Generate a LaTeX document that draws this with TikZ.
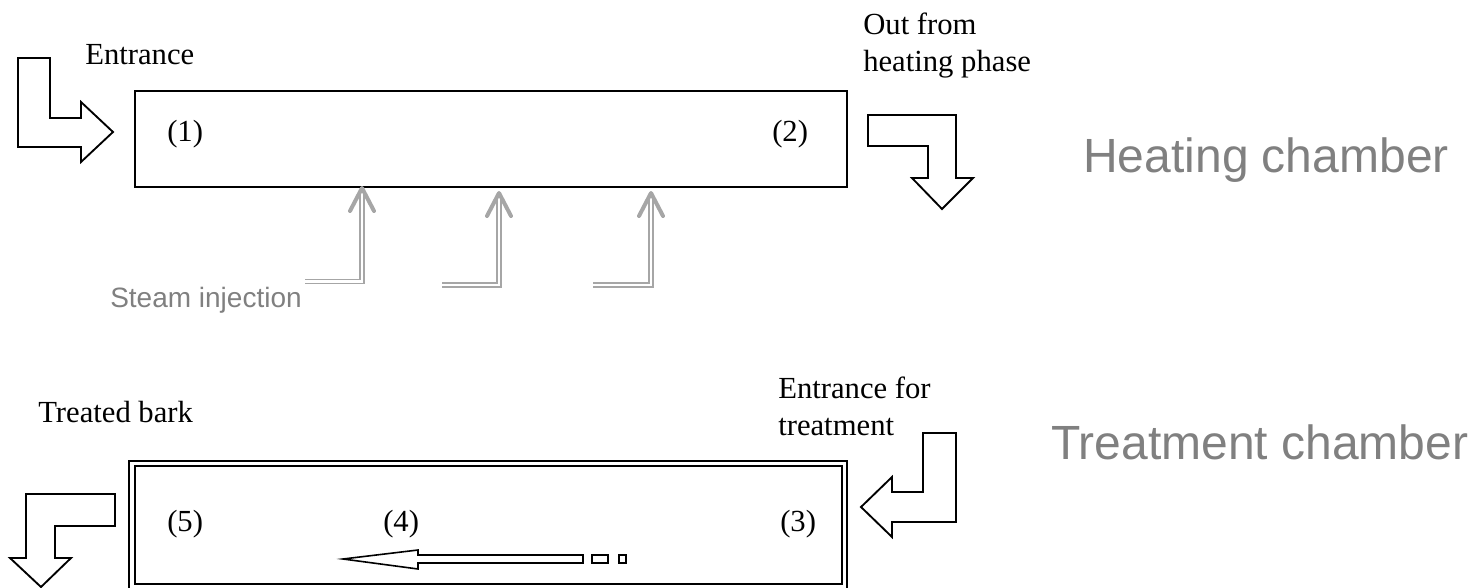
\documentclass[tikz,border=0pt]{standalone}
\usepackage{fontspec}
\setmainfont{Liberation Serif}
\setsansfont{Liberation Sans}
\usetikzlibrary{calc}
\definecolor{steamgray}{HTML}{A6A6A6}
\definecolor{labelgray}{HTML}{808080}
\tikzset{
  blockarrow/.style={draw=black, line width=1.4pt, fill=white, line join=miter},
  chamber/.style={draw=black, line width=1.5pt},
  steamline/.style={draw=steamgray, line width=1.1pt, double=white, double distance=1.6pt},
  steamtip/.style={draw=steamgray, line width=3pt, line cap=round, line join=round},
  note/.style={font=\fontsize{23}{27.75}\selectfont, anchor=base west, inner sep=0pt},
  bignote/.style={font=\sffamily\fontsize{36}{40}\selectfont, text=labelgray, anchor=base west, inner sep=0pt},
}
\begin{document}
\begin{tikzpicture}[x=0.75pt,y=-0.75pt]
    \useasboundingbox (0,0) rectangle (1483,588);
    % heating chamber
    \draw[chamber] (135,91) rectangle (847,187);
    \node[note] (posone) at (167,142) {(1)};
    \node[note] (postwo) at (772,142) {(2)};
    \draw[blockarrow] (18,58) -- (50,58) -- (50,118) -- (81,118) -- (81,102) -- (113,132) -- (81,162) -- (81,147) -- (18,147) -- cycle;
    \draw[blockarrow] (868,115) -- (956,115) -- (956,178) -- (973,178) -- (942,209) -- (912,178) -- (928,178) -- (928,146) -- (868,146) -- cycle;
    \node[note] (entrance) at (85,65) {Entrance};
    \node[note] (outfrom) at (863,35) {Out from};
    \node[note] (heatphase) at (863,72) {heating phase};
    \node[bignote] (heating) at (1083,172) {Heating chamber};
    % steam
    \coordinate (steamA) at (362,188);
    \coordinate (steamB) at (499,193);
    \coordinate (steamC) at (651,193);
    \draw[steamline] (305,281.5) -| ($(steamA)+(0,3)$);
    \draw[steamline] (442,285) -| ($(steamB)+(0,3)$);
    \draw[steamline] (593,285) -| ($(steamC)+(0,3)$);
    \draw[steamtip] ($(steamA)+(-12,23)$) -- (steamA) -- ($(steamA)+(12,23)$);
    \draw[steamtip] ($(steamB)+(-12,23)$) -- (steamB) -- ($(steamB)+(12,23)$);
    \draw[steamtip] ($(steamC)+(-12,23)$) -- (steamC) -- ($(steamC)+(12,23)$);
    \node[note, font=\sffamily\fontsize{21}{25}\selectfont, text=labelgray] (steam) at (110,307) {Steam injection};
    % treatment chamber
    \draw[chamber, double=white, double distance=2.6pt] (131.8,463.5) rectangle (844.5,586.3);
    \node[note] (posthree) at (780,531) {(3)};
    \node[note] (posfour) at (383,531) {(4)};
    \node[note] (posfive) at (167,531) {(5)};
    \draw[blockarrow, line width=1.2pt] (343,559) -- (418,550) -- (418,555) -- (583,555) -- (583,563) -- (418,563) -- (418,569) -- cycle;
    \draw[line width=1.2pt] (592,555) rectangle (608,563);
    \draw[line width=1.2pt] (619,555) rectangle (626,563);
    \draw[blockarrow] (923,433) -- (956,433) -- (956,522) -- (892,522) -- (892,537) -- (861,507) -- (892,477) -- (892,492) -- (923,492) -- cycle;
    \draw[blockarrow] (26,494) -- (115,494) -- (115,526) -- (55,526) -- (55,558) -- (71,558) -- (41,587) -- (10,558) -- (26,558) -- cycle;
    \node[note] (entfor) at (778,398) {Entrance for};
    \node[note] (enttreat) at (778,435) {treatment};
    \node[note] (treated) at (38,422) {Treated bark};
    \node[bignote] (treatment) at (1051,459) {Treatment chamber};
\end{tikzpicture}
\end{document}
